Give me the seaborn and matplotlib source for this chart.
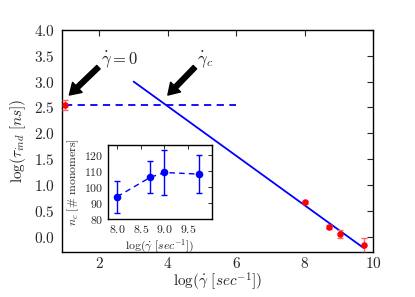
import numpy as np
import pandas as pd
import matplotlib
matplotlib.use("Agg")
import matplotlib.pyplot as plt
import seaborn as sns
from matplotlib.ticker import FixedLocator, FixedFormatter

# ---- data ----
red_x = [1.0, 8.0, 8.72, 9.02, 9.72]
red_y = [2.55, 0.66, 0.18, 0.05, -0.17]
red_err = [0.10, 0.03, 0.04, 0.07, 0.15]

fit_x = [3.0, 9.72]
fit_y = [3.0, -0.22]

plateau_x = [1.0, 6.0]
plateau_y = [2.55, 2.55]

inset_x = [8.0, 8.7, 9.0, 9.73]
inset_y = [94, 106, 109, 108]
inset_err = [10, 10, 14, 12]

main_xticks = [2, 4, 6, 8, 10]
main_yticks = [0.0, 0.5, 1.0, 1.5, 2.0, 2.5, 3.0, 3.5, 4.0]
inset_xticks = [8.0, 8.5, 9.0, 9.5]
inset_yticks = [80, 90, 100, 110, 120]

# ---- style ----
sns.set_style("white")
plt.rcParams.update({
    "mathtext.fontset": "cm",
    "font.family": ["DejaVu Serif"],
    "xtick.direction": "in",
    "ytick.direction": "in",
    "xtick.top": True,
    "ytick.right": True,
    "axes.edgecolor": "black",
    "axes.linewidth": 1.0,
})

fig = plt.figure(figsize=(4.15, 2.97), dpi=100)
ax = fig.add_axes([0.149, 0.1515, 0.750, 0.7475])

df_fit = pd.DataFrame({"x": fit_x, "y": fit_y})
df_plat = pd.DataFrame({"x": plateau_x, "y": plateau_y})
sns.lineplot(data=df_fit, x="x", y="y", ax=ax, color="#0000ff", lw=1.3)
sns.lineplot(data=df_plat, x="x", y="y", ax=ax, color="#0000ff", lw=1.3,
             linestyle=(0, (4, 3)))
ax.errorbar(red_x, red_y, yerr=red_err, fmt="none", ecolor="#ff6666",
            elinewidth=1.0, capsize=2.5, zorder=3)
sns.scatterplot(x=red_x, y=red_y, ax=ax, color="red", s=22, edgecolor="red",
                linewidth=0, zorder=4)

ax.set_xlim(0.9, 10.0)
ax.set_ylim(-0.3, 4.0)
ax.xaxis.set_major_locator(FixedLocator(main_xticks))
ax.xaxis.set_major_formatter(FixedFormatter([f"${t}$" for t in main_xticks]))
ax.yaxis.set_major_locator(FixedLocator(main_yticks))
ax.yaxis.set_major_formatter(FixedFormatter([f"${t:.1f}$" for t in main_yticks]))
ax.tick_params(labelsize=11, length=4, width=0.8, pad=5)
ax.tick_params(axis="x", pad=3)
ax.set_xlabel(r"$\log(\dot{\gamma}\ [sec^{-1}])$", fontsize=11, labelpad=0)
ax.set_ylabel(r"$\log(\tau_{ind}\ [ns])$", fontsize=11, labelpad=4)

arrow = dict(facecolor="black", edgecolor="black", width=3.5, headwidth=10,
             headlength=8, shrink=0.0)
ax.annotate("", xy=(1.12, 2.74), xytext=(1.97, 3.28), arrowprops=arrow)
ax.annotate("", xy=(4.0, 2.74), xytext=(4.79, 3.28), arrowprops=arrow)
ax.text(2.05, 3.43, r"$\dot{\gamma} = 0$", fontsize=12, ha="left", va="center")
ax.text(4.85, 3.43, r"$\dot{\gamma}_c$", fontsize=12, ha="left", va="center")

# ---- inset ----
ins = fig.add_axes([0.2595, 0.2616, 0.2506, 0.25])
df_in = pd.DataFrame({"x": inset_x, "y": inset_y})
sns.lineplot(data=df_in, x="x", y="y", ax=ins, color="#0000ff", lw=1.0,
             linestyle=(0, (4, 3)))
ins.errorbar(inset_x, inset_y, yerr=inset_err, fmt="none", ecolor="#0000ff",
             elinewidth=1.0, capsize=2.5)
sns.scatterplot(data=df_in, x="x", y="y", ax=ins, color="#0000ff", s=30,
                linewidth=0, zorder=4)
ins.set_xlim(7.8, 10.0)
ins.set_ylim(80, 126)
ins.xaxis.set_major_locator(FixedLocator(inset_xticks))
ins.xaxis.set_major_formatter(FixedFormatter([f"${t:.1f}$" for t in inset_xticks]))
ins.yaxis.set_major_locator(FixedLocator(inset_yticks))
ins.yaxis.set_major_formatter(FixedFormatter([f"${t}$" for t in inset_yticks]))
ins.tick_params(labelsize=8.5, length=3, width=0.7, pad=3)
ins.set_xlabel(r"$\log(\dot{\gamma}\ [sec^{-1}])$", fontsize=8.5, labelpad=1)
ins.set_ylabel(r"$n_c\ [\#\ \mathrm{monomers}]$", fontsize=8.5, labelpad=2)

fig.savefig("out.png", dpi=100)
